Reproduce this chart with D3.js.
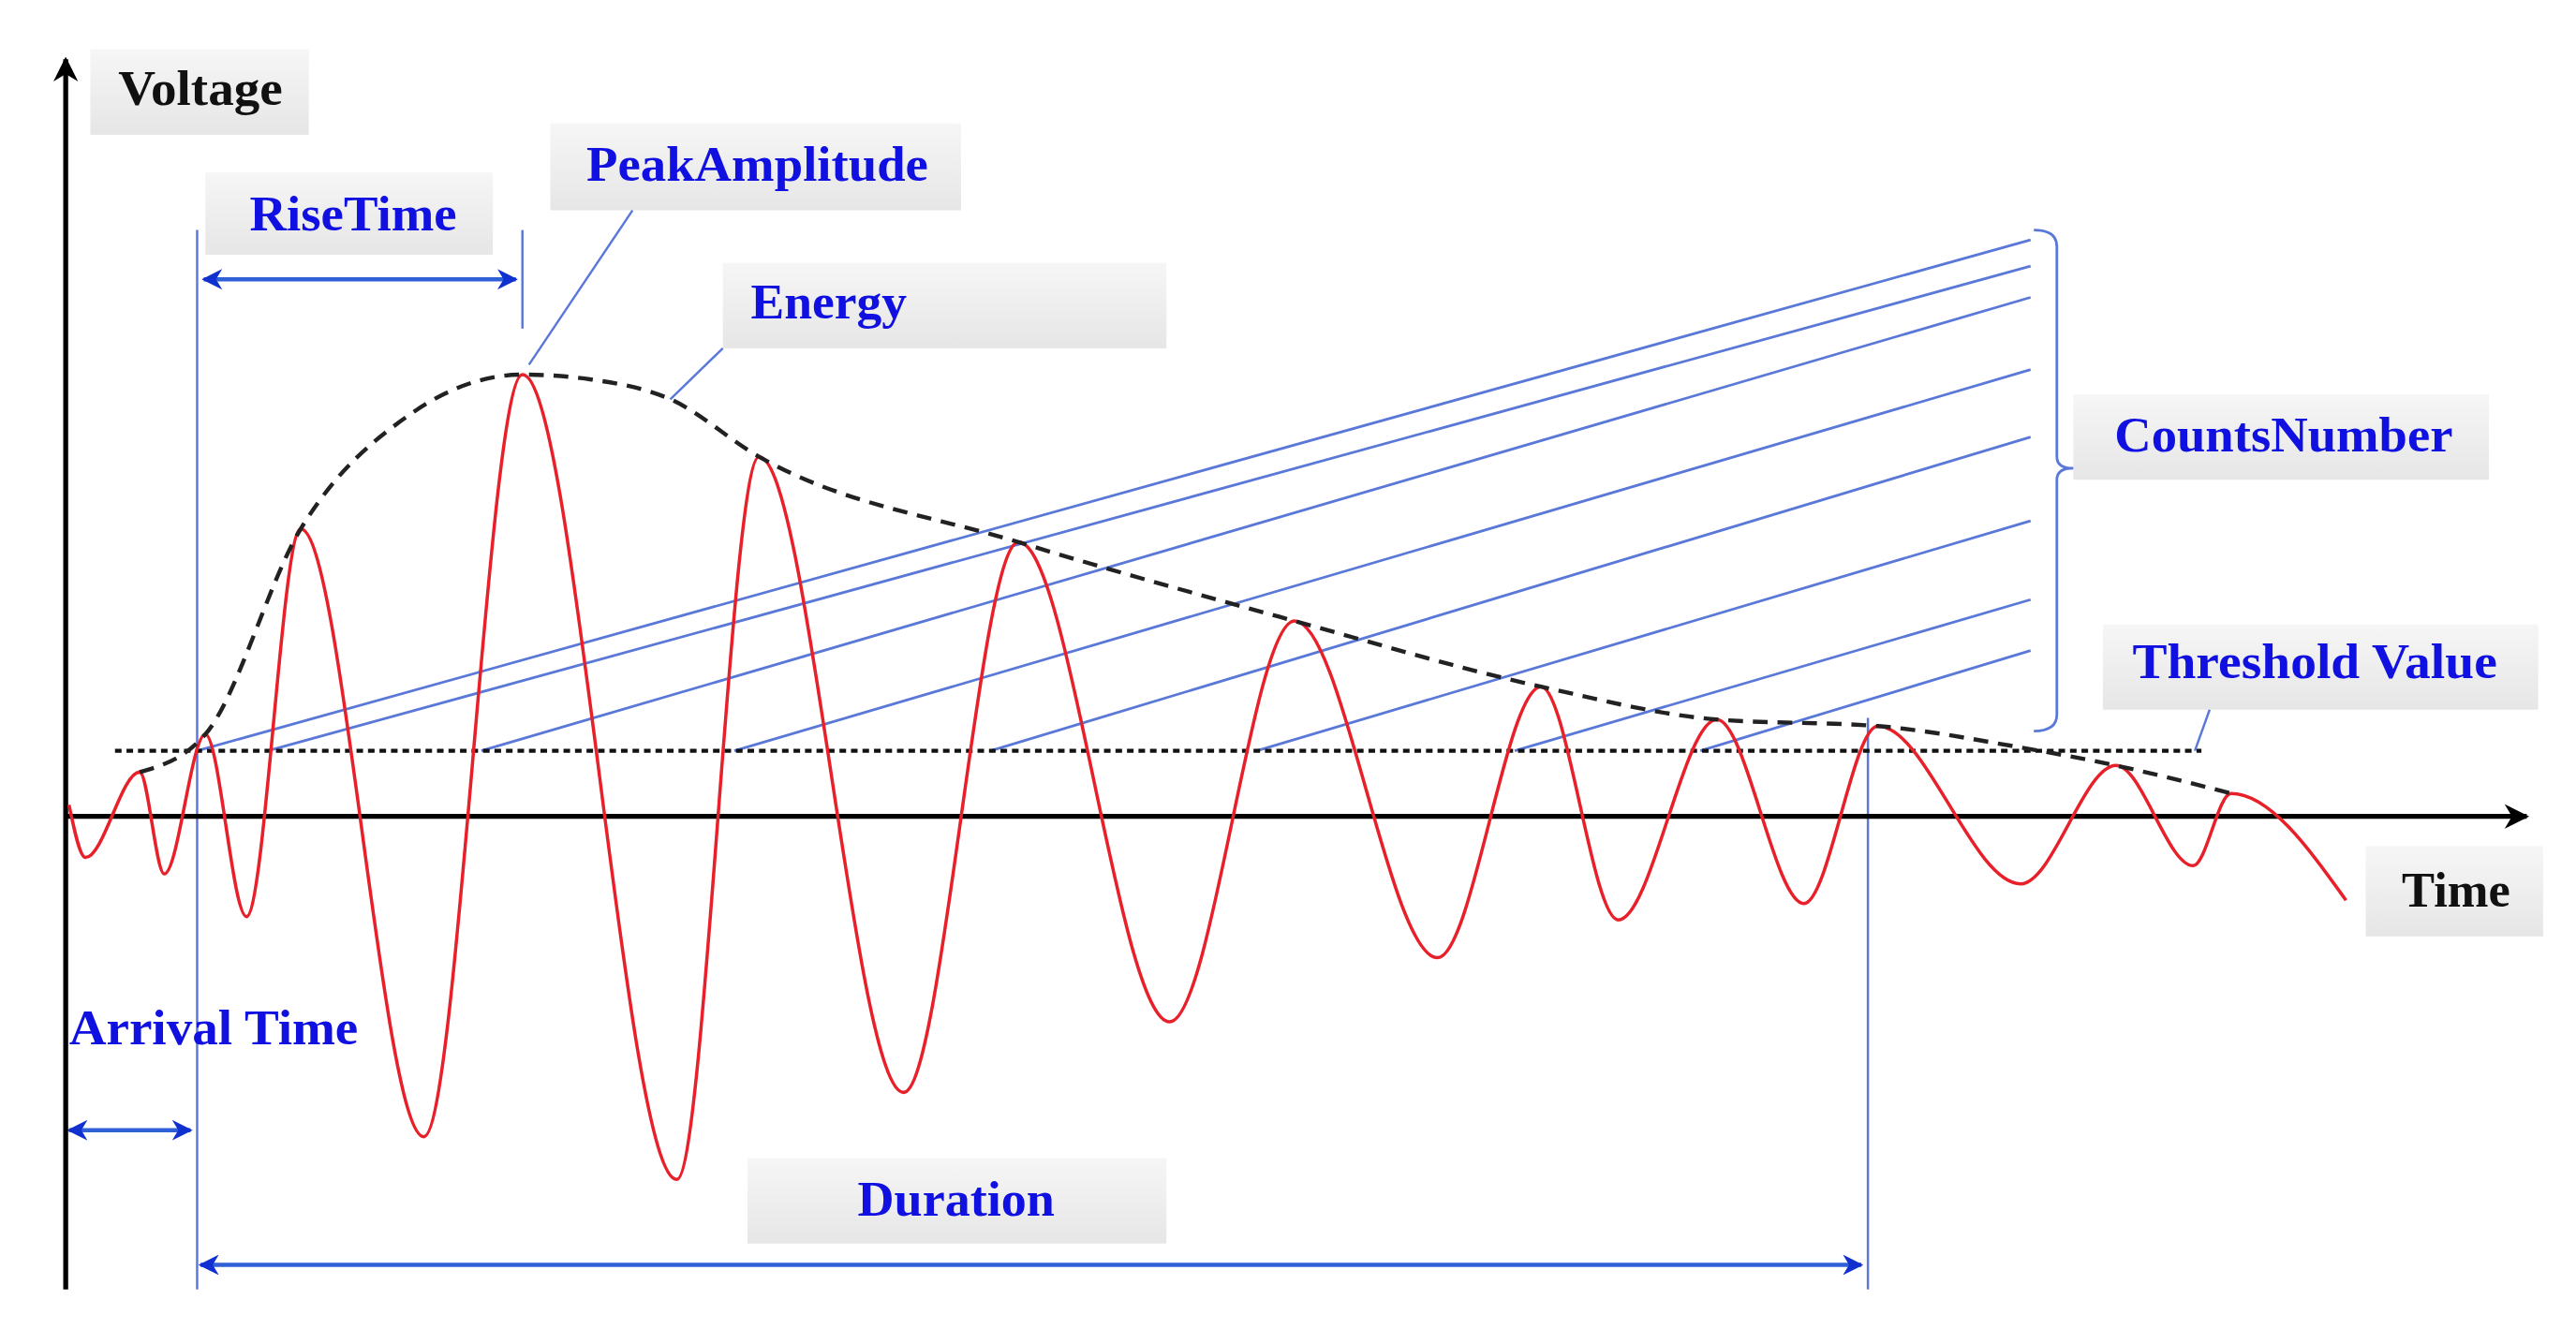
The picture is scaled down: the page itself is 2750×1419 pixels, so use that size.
<!DOCTYPE html>
<html><head><meta charset="utf-8">
<script src="https://cdn.jsdelivr.net/npm/d3@7"></script>
<style>html,body{margin:0;background:#fff}</style></head>
<body><svg id="c" width="2750" height="1419" viewBox="0 0 1568 809"></svg>
<script>
// waveform extrema (time, voltage), axis origin at t=0, v=0
const waveT = [2, 12, 45, 60, 85, 110, 143, 218, 278, 372, 422, 510, 580, 672, 748, 835, 898, 945, 1005, 1058, 1103, 1190, 1248, 1295, 1318, 1388];
const waveV = [7, -25, 27, -35, 50, -61, 175, -195, 269, -221, 219, -168, 167, -125, 119, -86, 79, -63, 59, -53, 55, -41, 31, -30, 14, -51];
const envT = [45, 85, 143, 210, 278, 320, 368, 422, 580, 748, 898, 1005, 1103, 1190, 1248, 1318];
const envV = [27, 50, 175, 245, 269, 266, 254, 219, 167, 119, 79, 59, 55, 42, 31, 14];
const countStartT = [80, 123, 253, 407, 563, 725, 882, 995];
const countEndV = [351, 335, 316, 272, 231, 180, 132, 101];
const thresholdV = 40;

const svg = d3.select("#c");
const x = d3.scaleLinear().domain([0, 1500]).range([40, 1540]);
const y = d3.scaleLinear().domain([-300, 460]).range([797, 37]);

const defs = svg.append("defs");
const g = defs.append("linearGradient").attr("id", "box").attr("x1", 0).attr("y1", 0).attr("x2", 0).attr("y2", 1);
g.append("stop").attr("offset", 0).attr("stop-color", "#f6f6f6");
g.append("stop").attr("offset", 1).attr("stop-color", "#e6e6e6");
const mk = (id, col) => defs.append("marker").attr("id", id).attr("viewBox", "0 0 10 10")
  .attr("refX", 9).attr("refY", 5).attr("markerWidth", 5).attr("markerHeight", 5)
  .attr("orient", "auto-start-reverse").append("path").attr("d", "M0,0L10,5L0,10L3,5z").attr("fill", col);
mk("ab", "#1030d0");
mk("ak", "#000");

// label boxes
const labels = [
  { t: "Voltage", b: [55, 30, 188, 82], tx: 72, tw: 100, ty: 64, c: "#111" },
  { t: "PeakAmplitude", b: [335, 75, 585, 128], tx: 357, tw: 208, ty: 110, c: "#1010e0" },
  { t: "RiseTime", b: [125, 105, 300, 155], tx: 152, tw: 126, ty: 140, c: "#1010e0" },
  { t: "Energy", b: [440, 160, 710, 212], tx: 457, tw: 95, ty: 194, c: "#1010e0" },
  { t: "CountsNumber", b: [1262, 240, 1515, 292], tx: 1287, tw: 206, ty: 275, c: "#1010e0" },
  { t: "Threshold Value", b: [1280, 380, 1545, 432], tx: 1298, tw: 222, ty: 413, c: "#1010e0" },
  { t: "Time", b: [1440, 515, 1548, 570], tx: 1462, tw: 66, ty: 552, c: "#111" },
  { t: "Arrival Time", b: null, tx: 42, tw: 176, ty: 636, c: "#1010e0" },
  { t: "Duration", b: [455, 705, 710, 757], tx: 522, tw: 120, ty: 740, c: "#1010e0" }
];
labels.filter(d => d.b).forEach(d => svg.append("rect").attr("x", d.b[0]).attr("y", d.b[1])
  .attr("width", d.b[2] - d.b[0]).attr("height", d.b[3] - d.b[1]).attr("fill", "url(#box)"));

const blue = "#5a78d8";
// count lines
countStartT.forEach((t, i) => svg.append("line").attr("x1", x(t)).attr("y1", y(thresholdV))
  .attr("x2", 1236).attr("y2", y(countEndV[i])).attr("stroke", blue).attr("stroke-width", 1.6));
// brace
svg.append("path").attr("d", "M1238,140 Q1252,140 1252,150 L1252,278 Q1252,285 1262,285 Q1252,285 1252,292 L1252,435 Q1252,445 1238,445")
  .attr("fill", "none").attr("stroke", blue).attr("stroke-width", 1.6);

// guides and leaders
const seg = (x1, y1, x2, y2, w) => svg.append("line").attr("x1", x1).attr("y1", y1).attr("x2", x2).attr("y2", y2)
  .attr("stroke", blue).attr("stroke-width", w || 1.4);
seg(x(80), 140, x(80), 785);
seg(x(278), 140, x(278), 200);
seg(x(1097), y(60), x(1097), 785);
seg(385, 128, 322, 222);
seg(440, 212, 408, 243);
seg(1345, 432, 1336, 457);

// arrows
const arrow = (x1, x2, yy) => svg.append("line").attr("x1", x1).attr("y1", yy).attr("x2", x2).attr("y2", yy)
  .attr("stroke", "#3060d8").attr("stroke-width", 2.5)
  .attr("marker-start", "url(#ab)").attr("marker-end", "url(#ab)");
arrow(x(84), x(274), 170);
arrow(x(2), x(76), 688);
arrow(x(82), x(1093), 770);

// axes
svg.append("line").attr("x1", x(0)).attr("y1", 785).attr("x2", x(0)).attr("y2", 36)
  .attr("stroke", "#000").attr("stroke-width", 3).attr("marker-end", "url(#ak)");
svg.append("line").attr("x1", x(0)).attr("y1", y(0)).attr("x2", x(1498)).attr("y2", y(0))
  .attr("stroke", "#000").attr("stroke-width", 3).attr("marker-end", "url(#ak)");

// threshold
svg.append("line").attr("x1", x(30)).attr("x2", x(1300)).attr("y1", y(thresholdV)).attr("y2", y(thresholdV))
  .attr("stroke", "#111").attr("stroke-width", 2.5).attr("stroke-dasharray", "4,3");

// waveform
const wave = waveT.map((t, i) => [t, waveV[i]]);
svg.append("path").datum(wave).attr("fill", "none").attr("stroke", "#e8202a").attr("stroke-width", 2)
  .attr("d", d3.line().x(d => x(d[0])).y(d => y(d[1])).curve(d3.curveMonotoneX));

// envelope
const env = envT.map((t, i) => [t, envV[i]]);
svg.append("path").datum(env).attr("fill", "none").attr("stroke", "#222").attr("stroke-width", 2.5)
  .attr("stroke-dasharray", "9,6")
  .attr("d", d3.line().x(d => x(d[0])).y(d => y(d[1])).curve(d3.curveMonotoneX));

// texts
labels.forEach(d => svg.append("text").attr("x", d.tx).attr("y", d.ty).text(d.t)
  .attr("textLength", d.tw).attr("lengthAdjust", "spacingAndGlyphs")
  .attr("font-family", "Liberation Serif, serif").attr("font-weight", "bold")
  .attr("font-size", 30).attr("fill", d.c));
</script></body></html>
